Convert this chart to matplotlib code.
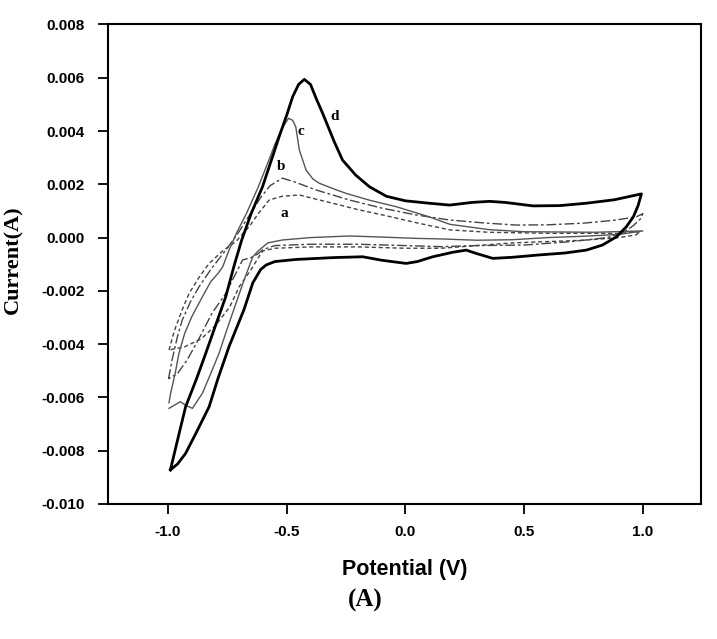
import numpy as np
import matplotlib
matplotlib.use("Agg")
import matplotlib.pyplot as plt

# cyclic voltammograms, potential in V, current in mA (converted to A below)
a_E = [-0.996, -0.98, -0.967, -0.94, -0.911, -0.87, -0.827, -0.77, -0.714, -0.68, -0.658, -0.62,
       -0.574, -0.52, -0.447, -0.38, -0.307, -0.2, -0.096, 0.05, 0.186, 0.35, 0.61, 0.89, 0.99,
       0.97, 0.9, 0.75, 0.6, 0.45, 0.3, 0.15, 0.0, -0.2, -0.4, -0.55, -0.6, -0.616, -0.65,
       -0.70, -0.74, -0.8, -0.86, -0.93, -0.996]
a_I = [-4.22, -3.7, -3.34, -2.7, -2.09, -1.5, -0.97, -0.5, -0.15, 0.2, 0.41, 0.9,
       1.41, 1.55, 1.60, 1.45, 1.29, 1.05, 0.85, 0.55, 0.29, 0.2, 0.16, 0.16, 0.22,
       0.1, 0.0, -0.1, -0.15, -0.2, -0.3, -0.4, -0.4, -0.35, -0.35, -0.4, -0.5, -0.7, -1.2,
       -1.84, -2.6, -3.3, -3.8, -4.1, -4.22]

b_E = [-0.998, -0.983, -0.96, -0.94, -0.905, -0.869, -0.82, -0.757, -0.71, -0.66, -0.61, -0.57,
       -0.518, -0.47, -0.377, -0.236, -0.096, 0.045, 0.186, 0.33, 0.467, 0.60, 0.748, 0.88, 0.973,
       1.0, 0.99, 0.96, 0.92, 0.85, 0.7, 0.5, 0.3, 0.15, 0.0, -0.2, -0.4, -0.55, -0.6, -0.62,
       -0.65, -0.686, -0.757, -0.815, -0.87, -0.92, -0.96, -0.998]
b_I = [-5.3, -4.59, -3.7, -3.09, -2.4, -1.84, -1.2, -0.47, 0.1, 0.8, 1.5, 1.95,
       2.23, 2.1, 1.79, 1.41, 1.10, 0.85, 0.66, 0.55, 0.47, 0.48, 0.54, 0.65, 0.78,
       0.9, 0.7, 0.45, 0.2, 0.0, -0.15, -0.28, -0.3, -0.34, -0.3, -0.25, -0.25, -0.3, -0.45, -0.6,
       -0.75, -0.84, -2.1, -2.84, -3.8, -4.6, -5.1, -5.3]

c_E = [-0.996, -0.989, -0.97, -0.954, -0.93, -0.90, -0.86, -0.82, -0.79, -0.77, -0.743, -0.71,
       -0.67, -0.62, -0.58, -0.55, -0.52, -0.492, -0.475, -0.462, -0.447, -0.419, -0.39, -0.363,
       -0.30, -0.25, -0.15, -0.039, 0.10, 0.186, 0.35, 0.5, 0.8, 1.0,
       0.9, 0.75, 0.6, 0.45, 0.3, 0.15, 0.045, -0.1, -0.236, -0.4, -0.518, -0.58, -0.62, -0.643,
       -0.68, -0.714, -0.75, -0.785, -0.82, -0.855, -0.897, -0.925, -0.948, -0.975, -0.996]
c_I = [-6.2, -5.84, -5.1, -4.34, -3.6, -2.97, -2.3, -1.65, -1.35, -1.1, -0.47, 0.2,
       0.9, 1.9, 2.8, 3.5, 4.1, 4.48, 4.4, 4.16, 3.29, 2.54, 2.2, 2.04,
       1.82, 1.66, 1.4, 1.16, 0.78, 0.5, 0.3, 0.22, 0.2, 0.25,
       0.12, 0.05, 0.0, -0.08, -0.1, -0.05, -0.03, 0.02, 0.06, 0.0, -0.09, -0.2, -0.5, -0.72,
       -1.6, -2.47, -3.4, -4.34, -5.1, -5.84, -6.41, -6.3, -6.16, -6.3, -6.41]

d_E = [-0.99, -0.96, -0.926, -0.88, -0.841, -0.80, -0.757, -0.72, -0.69, -0.65, -0.602, -0.565,
       -0.532, -0.50, -0.475, -0.45, -0.426, -0.40, -0.375, -0.349, -0.30, -0.265, -0.21, -0.152,
       -0.08, 0.0, 0.10, 0.186, 0.28, 0.354, 0.42, 0.537, 0.65, 0.762, 0.88, 0.994,
       0.98, 0.96, 0.93, 0.889, 0.83, 0.762, 0.67, 0.565, 0.45, 0.368, 0.30, 0.256, 0.20, 0.115,
       0.05, 0.003, -0.1, -0.18, -0.3, -0.46, -0.55, -0.587, -0.61, -0.643, -0.68, -0.743, -0.79,
       -0.827, -0.88, -0.926, -0.96, -0.99]
d_I = [-8.72, -7.6, -6.35, -5.3, -4.34, -3.3, -2.22, -1.0, -0.1, 0.9, 1.91, 2.9,
       3.79, 4.6, 5.29, 5.75, 5.94, 5.75, 5.2, 4.67, 3.6, 2.91, 2.35, 1.91,
       1.55, 1.38, 1.29, 1.22, 1.32, 1.36, 1.32, 1.19, 1.2, 1.29, 1.42, 1.64,
       1.2, 0.78, 0.4, 0.03, -0.28, -0.47, -0.58, -0.65, -0.74, -0.78, -0.6, -0.47, -0.55, -0.72,
       -0.9, -0.97, -0.85, -0.72, -0.75, -0.82, -0.9, -1.03, -1.2, -1.7, -2.7, -4.09, -5.3,
       -6.35, -7.3, -8.1, -8.5, -8.72]

curve_labels = ["a", "b", "c", "d"]
label_E = [-0.511, -0.525, -0.44, -0.30]
label_I = [0.91, 2.66, 3.98, 4.54]

x_ticks = [-1.0, -0.5, 0.0, 0.5, 1.0]
y_ticks = [0.008, 0.006, 0.004, 0.002, 0.000, -0.002, -0.004, -0.006, -0.008, -0.010]

fig = plt.figure(figsize=(7.17, 6.39), dpi=100)
ax = fig.add_axes([0.1506, 0.2113, 0.8271, 0.7504])

ax.plot(a_E, np.array(a_I) / 1000, color="#444444", lw=1.0, linestyle=(0, (3, 2)))
ax.plot(b_E, np.array(b_I) / 1000, color="#444444", lw=1.0, linestyle=(0, (7, 2, 2, 2)))
ax.plot(c_E, np.array(c_I) / 1000, color="#555555", lw=1.0)
ax.plot(d_E, np.array(d_I) / 1000, color="black", lw=2.0)

for lab, e, i in zip(curve_labels, label_E, label_I):
    ax.text(e, i / 1000, lab, fontsize=11, fontweight="bold", family="Liberation Serif",
            ha="center", va="center")

ax.set_xlim(-1.253, 1.245)
ax.set_ylim(-0.010, 0.008)
ax.set_xticks(x_ticks)
ax.set_xticklabels([f"{v:.1f}" for v in x_ticks])
ax.set_yticks(y_ticks)
ax.set_yticklabels([f"{v:.3f}" for v in y_ticks])

for lbl in ax.get_xticklabels() + ax.get_yticklabels():
    lbl.set_family("Liberation Sans")
    lbl.set_fontweight("bold")
    lbl.set_fontsize(11)
ax.tick_params(direction="out", length=7, width=1.3, pad=8)
ax.tick_params(axis="y", pad=10)
for s in ax.spines.values():
    s.set_linewidth(1.5)

ax.set_xlabel("Potential (V)", family="Liberation Sans", fontweight="bold", fontsize=15.5)
ax.xaxis.set_label_coords(0.5, -0.115)
ax.set_ylabel("Current(A)", family="Liberation Serif", fontweight="bold", fontsize=16)
ax.yaxis.set_label_coords(-0.143, 0.509)

fig.text(365 / 717, 1 - 600 / 639, "(A)", family="Liberation Serif", fontweight="bold",
         fontsize=18, ha="center", va="center")

fig.savefig("out.png", dpi=100)
plt.close(fig)
